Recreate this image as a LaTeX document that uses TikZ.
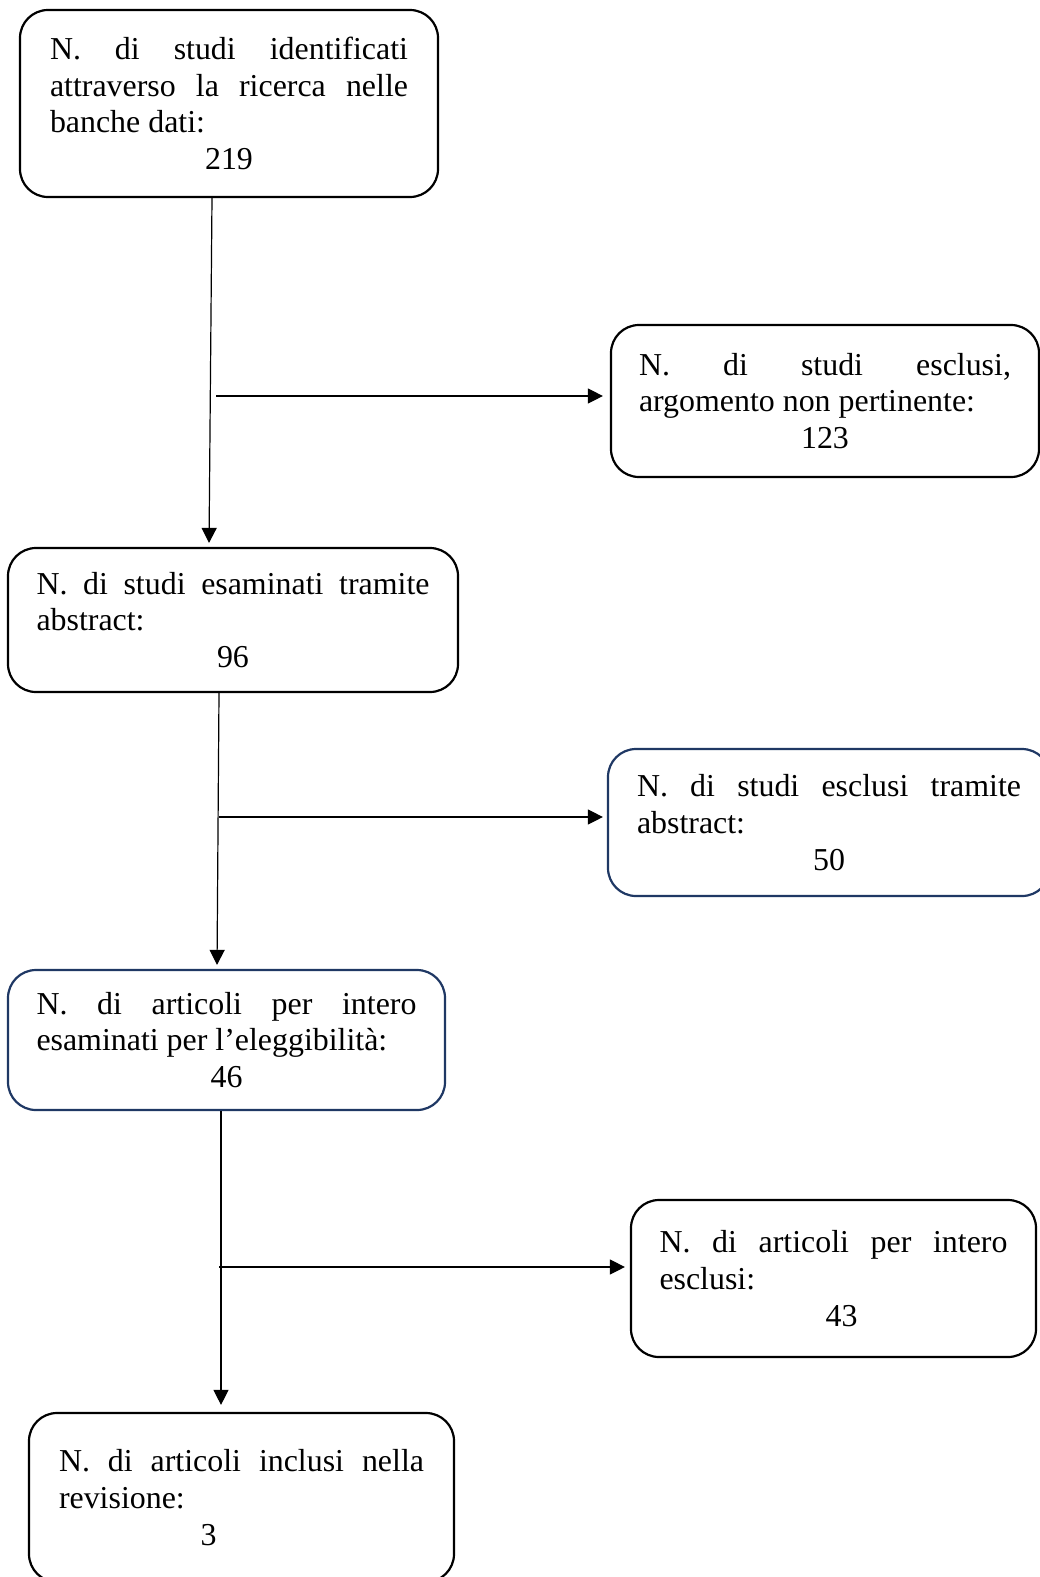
\documentclass[tikz,border=0pt]{standalone}
\usepackage{fontspec}
\setmainfont{Liberation Serif}
\usetikzlibrary{arrows.meta}
\definecolor{navyb}{RGB}{31,56,100}
\tikzset{
  box/.style={draw=black, line width=2.2pt, rounded corners=28pt, inner sep=0pt,
    align=justify, font=\fontsize{31.9}{36.8}\selectfont},
  navybox/.style={box, draw=navyb},
  arr/.style={line width=1.2pt, -{Triangle[width=15pt,length=15pt]}},
  ln/.style={line width=1.2pt}
}
\begin{document}
\begin{tikzpicture}[x=1pt,y=-1pt]
\useasboundingbox (0,0) rectangle (1040,1577);
\fill[white] (0,0) rectangle (1040,1577);
\node[box, minimum width=418pt, minimum height=187pt, text width=358pt] (b1) at (229,103.5)
  {N. di studi identificati\linebreak attraverso la ricerca nelle\linebreak banche dati:\par{\centering 219\par}};
\node[box, minimum width=428pt, minimum height=152pt, text width=372pt] (b2) at (825,401)
  {N. di studi esclusi,\linebreak argomento non pertinente:\par{\centering 123\par}};
\node[box, minimum width=450pt, minimum height=144pt, text width=393pt] (b3) at (233,620)
  {N. di studi esaminati tramite\linebreak abstract:\par{\centering 96\par}};
\node[navybox, minimum width=442pt, minimum height=147pt, text width=384pt] (b4) at (829,822.5)
  {N. di studi esclusi tramite\linebreak abstract:\par{\centering 50\par}};
\node[navybox, minimum width=437pt, minimum height=140pt, text width=380pt] (b5) at (226.5,1040)
  {N. di articoli per intero\linebreak esaminati per l’eleggibilità:\par{\centering 46\par}};
\node[box, minimum width=405pt, minimum height=157pt, text width=348pt] (b6) at (833.5,1278.5)
  {N. di articoli per intero\linebreak esclusi:\par{\centering\hspace*{16pt}43\par}};
\node[box, minimum width=425pt, minimum height=169pt, text width=365pt] (b7) at (241.5,1497.5)
  {N. di articoli inclusi nella\linebreak revisione:\par{\centering\hspace*{-66pt}3\par}};
% vertical connectors
\draw[arr, shorten >=4pt] ([xshift=-17pt]b1.south) -- ([xshift=-24pt]b3.north);
\draw[arr, shorten >=4pt] ([xshift=-14pt]b3.south) -- ([xshift=-9.5pt]b5.north);
\draw[arr, shorten >=7pt] ([xshift=-5.5pt]b5.south) -- ([xshift=-20.5pt]b7.north);
% side branches
\coordinate (h1) at (216,396);
\coordinate (h2) at (219,817);
\coordinate (h3) at (219,1267);
\draw[arr, shorten >=7pt] (h1) -- ([yshift=5pt]b2.west);
\draw[arr, shorten >=4pt] (h2) -- ([yshift=5.5pt]b4.west);
\draw[arr, shorten >=5pt] (h3) -- ([yshift=11.5pt]b6.west);
\end{tikzpicture}
\end{document}
